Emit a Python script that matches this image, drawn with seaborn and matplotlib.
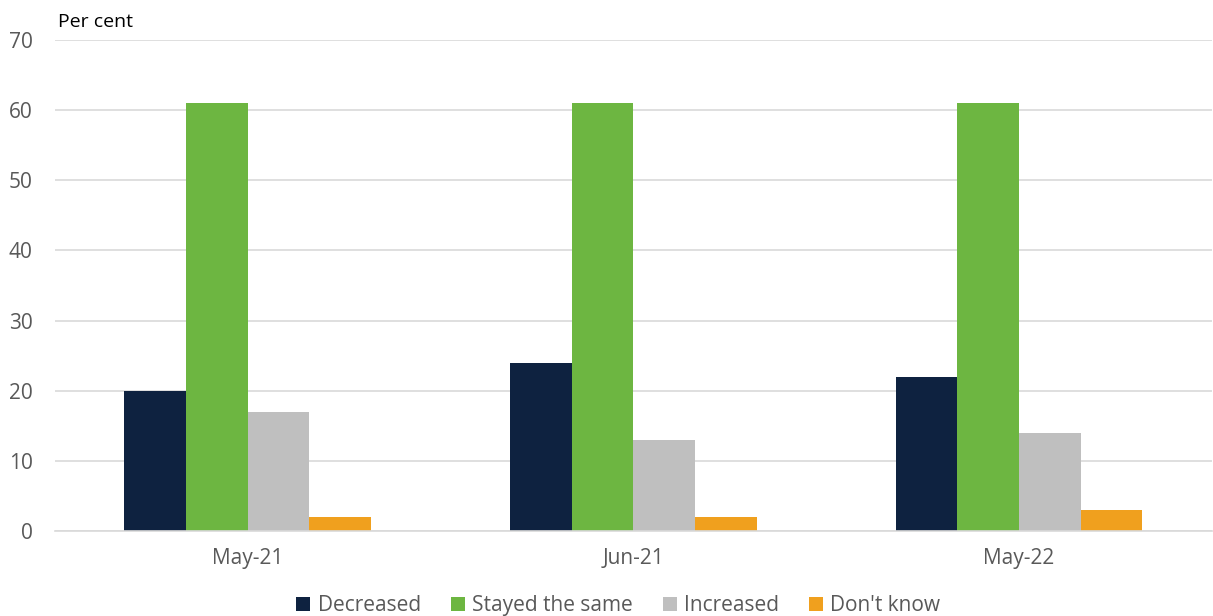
import pandas as pd
import numpy as np
import matplotlib
matplotlib.use('Agg')
import matplotlib.pyplot as plt
import seaborn as sns
from matplotlib.ticker import FixedLocator

periods = ['May-21', 'Jun-21', 'May-22']
responses = ['Decreased', 'Stayed the same', 'Increased', "Don't know"]
decreased = [20, 24, 22]
stayed_same = [61, 61, 61]
increased = [17, 13, 14]
dont_know = [2, 2, 3]
colors = ['#0E2240', '#6DB641', '#BFBFBF', '#F0A01E']

rows = []
for name, vals in zip(responses, [decreased, stayed_same, increased, dont_know]):
    for p, v in zip(periods, vals):
        rows.append({'period': p, 'response': name, 'value': v})
df = pd.DataFrame(rows)

sns.set_style('white')
plt.rcParams['font.family'] = ['Open Sans', 'DejaVu Sans']

fig = plt.figure(figsize=(12.13, 6.16), dpi=100)
ax = fig.add_axes([0.0453, 0.138, 0.9537, 0.797])
sns.barplot(data=df, x='period', y='value', hue='response', order=periods,
            hue_order=responses, palette=colors, width=0.64, gap=0,
            saturation=1, ax=ax, edgecolor='none', linewidth=0)

ax.set_ylim(0, 70)
ax.set_yticks(range(0, 71, 10))
ax.set_xlim(-0.5, 2.5)
ax.yaxis.grid(True, color='#D9D9D9', linewidth=1.2)
ax.set_axisbelow(True)
for s in ['left', 'right', 'top']:
    ax.spines[s].set_visible(False)
ax.spines['bottom'].set_color('#D9D9D9')
ax.spines['bottom'].set_linewidth(1.2)
ax.tick_params(axis='y', length=0, labelsize=15, labelcolor='#595959', pad=16)
ax.tick_params(axis='x', which='major', length=0, labelsize=15, labelcolor='#595959', pad=12)
ax.xaxis.set_minor_locator(FixedLocator([-0.5, 0.5, 1.5, 2.5]))
ax.tick_params(axis='x', which='minor', length=8, color='#D9D9D9', width=1.2)
ax.set_xlabel('')
ax.set_ylabel('')
fig.text(0.048, 0.965, 'Per cent', fontsize=14, color='black', ha='left', va='center')

ax.legend(loc='center', bbox_to_anchor=(0.487, -0.152), ncol=4, frameon=False,
          fontsize=15, labelcolor='#595959', handlelength=0.67, handleheight=0.67,
          handletextpad=0.34, columnspacing=1.45)

fig.savefig('out.png', dpi=100)
